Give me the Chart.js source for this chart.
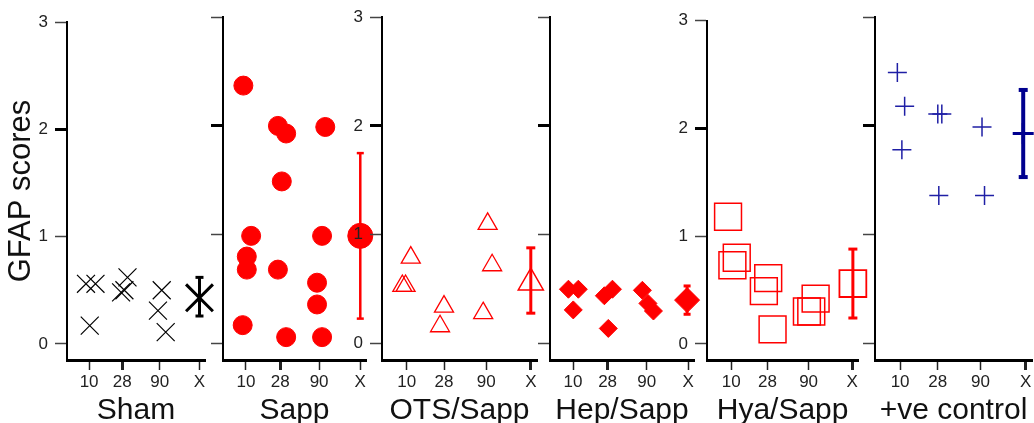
<!DOCTYPE html>
<html>
<head>
<meta charset="utf-8">
<script src="https://cdn.jsdelivr.net/npm/chart.js@4.4.1/dist/chart.umd.min.js"></script>
<style>
  html, body { margin: 0; padding: 0; background: #fff; overflow: hidden; }
  #wrap { position: relative; width: 1034px; height: 423px; overflow: hidden; background: #fff; }
  canvas { position: absolute; top: 0; }
</style>
</head>
<body>
<div id="wrap"></div>
<script>
// groups and x categories (10, 28, 90 days and the group mean X)
const groups = ['Sham', 'Sapp', 'OTS/Sapp', 'Hep/Sapp', 'Hya/Sapp', '+ve control'];
const xLabels = ['10', '28', '90', 'X'];
const xTickPos = [1, 2.5, 4.2, 6];
const yTicks = [0, 1, 2, 3];

// individual scores, x = category position with the jitter seen in the figure
const shamX = [0.86, 1.29, 1.03, 2.45, 2.6, 2.74, 4.29, 4.12, 4.47];
const shamY = [0.56, 0.56, 0.17, 0.48, 0.50, 0.62, 0.50, 0.31, 0.11];

const sappX = [0.89, 1.23, 1.04, 1.04, 0.86, 2.40, 2.76, 2.57, 2.40, 2.76, 4.47, 4.33, 4.11, 4.11, 4.33];
const sappY = [2.37, 0.99, 0.80, 0.68, 0.17, 2.00, 1.93, 1.49, 0.68, 0.06, 1.99, 0.99, 0.56, 0.36, 0.06];

const otsX = [1.16, 0.82, 0.95, 2.50, 2.34, 4.26, 4.44, 4.08];
const otsY = [0.79, 0.53, 0.53, 0.34, 0.16, 1.10, 0.72, 0.28];

const hepX = [0.80, 1.23, 1.01, 2.36, 2.71, 2.53, 4.01, 4.25, 4.49];
const hepY = [0.50, 0.50, 0.31, 0.44, 0.50, 0.14, 0.49, 0.37, 0.30];

const hyaX = [0.87, 1.23, 1.05, 2.53, 2.35, 2.71, 4.49, 4.13, 4.31];
const hyaY = [1.18, 0.80, 0.73, 0.61, 0.49, 0.135, 0.42, 0.30, 0.30];

const posX = [0.89, 1.18, 1.07, 2.50, 2.66, 2.54, 4.26, 4.36];
const posY = [2.49, 2.18, 1.78, 2.11, 2.11, 1.36, 1.99, 1.36];

// group means with error bars
const meanX = [6, 6, 6, 5.95, 6.03, 5.9];
const means = [0.43, 0.99, 0.56, 0.40, 0.56, 1.93];
const errLow = [0.26, 0.23, 0.28, 0.27, 0.24, 1.53];
const errHigh = [0.62, 1.75, 0.88, 0.53, 0.88, 2.33];

const FONT = "'Liberation Sans', Arial, sans-serif";
const RED = '#ff0000';

// layout + marker style of each panel
const panels = [
  { xs: shamX, ys: shamY, axis: 67, xEnd: 205, yw: 67, labels: true, boldX: 1,
    style: 'crossRot', r: 12.7, lw: 1.2, mr: 19, mlw: 3, color: '#000', fill: false, bw: 3, cap: 4, barColor: '#000' },
  { xs: sappX, ys: sappY, axis: 223, xEnd: 360, yw: 40, labels: false, boldX: 1,
    style: 'circle', r: 9.5, lw: 1, mr: 12.5, mlw: 1, color: RED, fill: true, bw: 2.5, cap: 3.5, barColor: RED },
  { xs: otsX, ys: otsY, axis: 382, xEnd: 531, yw: 40, labels: true, boldX: 3,
    style: 'triangle', r: 11, lw: 1.3, mr: 14.5, mlw: 1.5, color: RED, fill: false, bw: 3, cap: 4.5, barColor: RED },
  { xs: hepX, ys: hepY, axis: 550, xEnd: 688, yw: 40, labels: false, boldX: 1,
    style: 'rectRot', r: 9, lw: 1, mr: 12.5, mlw: 1, color: RED, fill: true, bw: 3, cap: 3.5, barColor: RED },
  { xs: hyaX, ys: hyaY, axis: 707, xEnd: 857, yw: 40, labels: true, boldX: 3,
    style: 'rect', r: 19, lw: 1.5, mr: 19, mlw: 1.8, color: RED, fill: false, bw: 3, cap: 4.5, barColor: RED },
  { xs: posX, ys: posY, axis: 875, xEnd: 1026, yw: 40, labels: false, boldX: 3,
    style: 'cross', r: 9.5, lw: 1.5, mr: 10.5, mlw: 3, color: '#1f1fa5', fill: false, bw: 4, cap: 4.5, barColor: '#00008f' }
];

const wrap = document.getElementById('wrap');

panels.forEach((p, i) => {
  const unit = (p.xEnd - p.axis) / 6;
  const areaW = unit * 6.25;
  const canvas = document.createElement('canvas');
  const w = Math.round(p.yw + areaW + 16);
  canvas.width = w;
  canvas.height = 440;
  canvas.style.left = (p.axis - p.yw) + 'px';
  canvas.style.width = w + 'px';
  canvas.style.height = '440px';
  wrap.appendChild(canvas);

  const fillCol = p.fill ? p.color : 'rgba(0,0,0,0)';

  new Chart(canvas.getContext('2d'), {
    type: 'scatter',
    data: {
      datasets: [
        {
          data: p.xs.map((x, k) => ({ x: x, y: p.ys[k] })),
          pointStyle: p.style,
          pointRadius: p.r,
          pointBorderWidth: p.lw,
          pointBorderColor: p.color,
          pointBackgroundColor: fillCol,
          clip: false
        },
        {
          data: [{ x: meanX[i], y: errLow[i] }, { x: meanX[i], y: errHigh[i] }],
          showLine: true,
          borderColor: p.barColor,
          borderWidth: p.bw,
          pointStyle: 'line',
          pointRadius: p.cap,
          pointBorderWidth: p.bw,
          pointBorderColor: p.barColor,
          clip: false
        },
        {
          data: [{ x: meanX[i], y: means[i] }],
          pointStyle: p.style,
          pointRadius: p.mr,
          pointBorderWidth: p.mlw,
          pointBorderColor: p.barColor,
          pointBackgroundColor: fillCol,
          clip: false
        }
      ]
    },
    options: {
      responsive: false,
      animation: false,
      events: [],
      layout: { padding: { top: 17, right: 16, bottom: 0, left: 0 } },
      plugins: { legend: { display: false }, tooltip: { enabled: false } },
      scales: {
        x: {
          type: 'linear',
          min: 0,
          max: 6.25,
          afterBuildTicks: s => { s.ticks = xTickPos.map(v => ({ value: v })); },
          afterFit: s => { s.height = 80; s.paddingLeft = 0; s.paddingRight = 0; },
          ticks: {
            autoSkip: false,
            maxRotation: 0,
            padding: 2,
            color: '#222',
            font: { family: FONT, size: 17 },
            callback: (v, k) => xLabels[k]
          },
          grid: {
            drawOnChartArea: false,
            tickLength: 10,
            tickColor: '#222',
            tickWidth: c => (c.index === p.boldX ? 3 : 1.5)
          },
          border: { color: '#000', width: 3 },
          title: {
            display: true,
            text: groups[i],
            color: '#111',
            font: { family: FONT, size: 30 },
            padding: { top: 0, bottom: 11 }
          }
        },
        y: {
          min: -0.15,
          max: 3,
          afterBuildTicks: s => { s.ticks = yTicks.map(v => ({ value: v })); },
          afterFit: s => { s.width = p.yw; s.paddingTop = 0; s.paddingBottom = 0; },
          ticks: {
            padding: 7,
            color: p.labels ? '#222' : 'rgba(0,0,0,0)',
            font: { family: FONT, size: 17 }
          },
          grid: {
            drawOnChartArea: false,
            tickLength: 12,
            tickColor: c => (c.tick && c.tick.value === 2 ? '#000' : '#444'),
            tickWidth: c => (c.tick && c.tick.value === 2 ? 3 : 1.5)
          },
          border: { color: '#000', width: 2 },
          title: {
            display: i === 0,
            text: 'GFAP scores',
            color: '#111',
            font: { family: FONT, size: 31 },
            padding: { top: 3, bottom: 0 }
          }
        }
      }
    }
  });
});
</script>
</body>
</html>
